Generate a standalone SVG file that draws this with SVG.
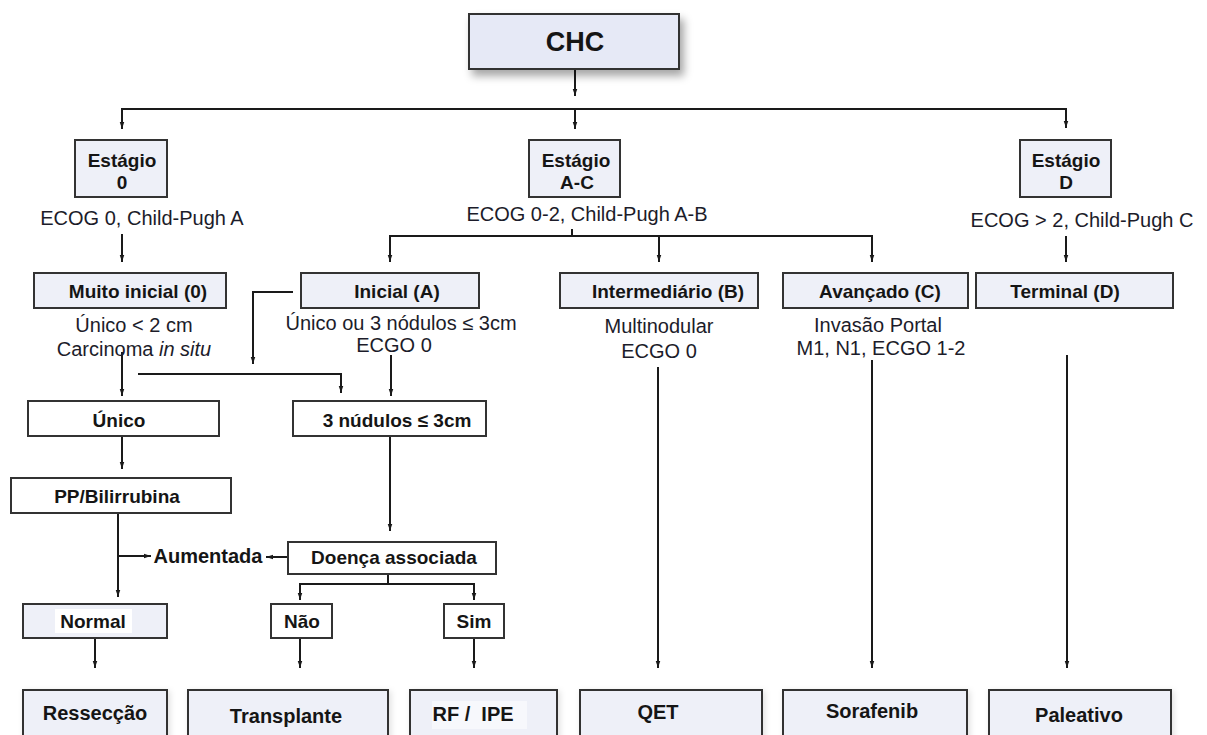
<svg xmlns="http://www.w3.org/2000/svg" width="1207" height="735" viewBox="0 0 1207 735">
<defs>
<marker id="ah" markerWidth="7" markerHeight="11" refX="11" refY="3.5" orient="auto" markerUnits="userSpaceOnUse" viewBox="0 0 11 7"><path d="M0,0 L11,3.5 L0,7 z" fill="#1a1a1a"/></marker>
<filter id="sh" x="-20%" y="-30%" width="150%" height="180%"><feDropShadow dx="4" dy="6" stdDeviation="4" flood-color="#000" flood-opacity="0.35"/></filter>
<filter id="sh2" x="-20%" y="-30%" width="150%" height="180%"><feDropShadow dx="2" dy="2" stdDeviation="3" flood-color="#000" flood-opacity="0.12"/></filter>
</defs>
<style>
.lav{fill:#eef0f8;stroke:#333;stroke-width:2}
.wht{fill:#fff;stroke:#333;stroke-width:2}
.bt{font-family:"Liberation Sans",Arial,sans-serif;font-weight:bold;font-size:19px;fill:#151515;text-anchor:middle}
.bb{font-family:"Liberation Sans",Arial,sans-serif;font-weight:bold;font-size:20px;fill:#151515;text-anchor:middle}
.rt{font-family:"Liberation Sans",Arial,sans-serif;font-size:20px;fill:#1c1c2a;text-anchor:middle}
.ln{stroke:#1a1a1a;stroke-width:2;fill:none}
.ar{stroke:#1a1a1a;stroke-width:2;fill:none;marker-end:url(#ah)}
</style>
<rect width="1207" height="735" fill="#fff"/>

<g id="connectors">
<line class="ar" x1="575" y1="69" x2="575" y2="96"/>
<line class="ln" x1="122" y1="109" x2="1066" y2="109"/>
<line class="ar" x1="122" y1="108" x2="122" y2="129"/>
<line class="ar" x1="575" y1="109" x2="575" y2="129"/>
<line class="ar" x1="1066" y1="108" x2="1066" y2="128"/>
<line class="ar" x1="122" y1="234" x2="122" y2="262"/>
<line class="ln" x1="572" y1="229" x2="572" y2="236"/>
<line class="ln" x1="390" y1="236" x2="872" y2="236"/>
<line class="ar" x1="390" y1="235" x2="390" y2="262"/>
<line class="ar" x1="659" y1="236" x2="659" y2="262"/>
<line class="ar" x1="872" y1="235" x2="872" y2="262"/>
<line class="ar" x1="1066" y1="236" x2="1066" y2="262"/>
<line class="ar" x1="122" y1="352" x2="122" y2="396"/>
<path class="ar" d="M138,374 H341 V393"/>
<path class="ar" d="M293,292 H253 V364"/>
<line class="ar" x1="391" y1="355" x2="391" y2="396"/>
<line class="ar" x1="122" y1="436" x2="122" y2="469"/>
<line class="ar" x1="390" y1="436" x2="390" y2="531"/>
<line class="ar" x1="118" y1="513" x2="118" y2="597"/>
<line class="ar" x1="118" y1="556" x2="151" y2="556"/>
<line class="ar" x1="288" y1="557" x2="266" y2="557"/>
<line class="ln" x1="388" y1="574" x2="388" y2="584"/>
<path class="ar" d="M388,584 H300 V600"/>
<path class="ar" d="M388,584 H474 V600"/>
<line class="ar" x1="95" y1="638" x2="95" y2="668"/>
<line class="ar" x1="300" y1="638" x2="300" y2="668"/>
<line class="ar" x1="474" y1="638" x2="474" y2="668"/>
<line class="ar" x1="658" y1="367" x2="658" y2="668"/>
<line class="ar" x1="872" y1="360" x2="872" y2="668"/>
<line class="ar" x1="1067" y1="355" x2="1067" y2="668"/>
</g>

<g id="chc"><rect x="469" y="14" width="210" height="55" fill="#e6e9f6" stroke="#333" stroke-width="2" filter="url(#sh)"/><text class="bt" x="575" y="51" style="font-size:27px">CHC</text></g>

<g id="estagio0"><rect class="lav" x="75" y="140" width="92" height="57"/><text class="bt" x="122" y="167">Estágio</text><text class="bt" x="122" y="189">0</text></g>
<g id="estagioAC"><rect class="lav" x="529" y="140" width="91" height="57"/><text class="bt" x="576" y="167">Estágio</text><text class="bt" x="577" y="189">A-C</text></g>
<g id="estagioD"><rect class="lav" x="1020" y="140" width="91" height="57"/><text class="bt" x="1066" y="167">Estágio</text><text class="bt" x="1066" y="189">D</text></g>

<g id="ecog0"><text class="rt" x="142" y="225">ECOG 0, Child-Pugh A</text></g>
<g id="ecogAC"><text class="rt" x="587" y="221">ECOG 0-2, Child-Pugh A-B</text></g>
<g id="ecogD"><text class="rt" x="1082" y="227">ECOG &gt; 2, Child-Pugh C</text></g>

<g id="muito"><rect class="lav" x="34" y="273" width="192" height="35"/><text class="bt" x="138" y="298">Muito inicial (0)</text></g>
<g id="inicial"><rect class="lav" x="301" y="273" width="178" height="35"/><text class="bt" x="397" y="298">Inicial (A)</text></g>
<g id="intermediario"><rect class="lav" x="560" y="273" width="198" height="35"/><text class="bt" x="668" y="298">Intermediário (B)</text></g>
<g id="avancado"><rect class="lav" x="783" y="273" width="185" height="35"/><text class="bt" x="880" y="298">Avançado (C)</text></g>
<g id="terminal"><rect class="lav" x="976" y="273" width="197" height="35"/><text class="bt" x="1065" y="298">Terminal (D)</text></g>

<g id="desc-muito"><text class="rt" x="134" y="332">Único &lt; 2 cm</text><text class="rt" x="134" y="356">Carcinoma <tspan font-style="italic">in situ</tspan></text></g>
<g id="desc-inicial"><text class="rt" x="401" y="330">Único ou 3 nódulos ≤ 3cm</text><text class="rt" x="394" y="352">ECGO 0</text></g>
<g id="desc-inter"><text class="rt" x="659" y="333">Multinodular</text><text class="rt" x="659" y="358">ECGO 0</text></g>
<g id="desc-avanc"><text class="rt" x="878" y="332">Invasão Portal</text><text class="rt" x="881" y="355">M1, N1, ECGO 1-2</text></g>

<g id="unico"><rect class="wht" x="28" y="401" width="191" height="35"/><text class="bt" x="119" y="427">Único</text></g>
<g id="tres"><rect class="wht" x="293" y="401" width="193" height="35"/><text class="bt" x="397" y="427">3 núdulos ≤ 3cm</text></g>
<g id="pp"><rect class="wht" x="11" y="478" width="220" height="35"/><text class="bt" x="117" y="503">PP/Bilirrubina</text></g>
<g id="aumentada"><text class="bb" x="208" y="563">Aumentada</text></g>
<g id="doenca"><rect class="wht" x="288" y="542" width="208" height="32"/><text class="bt" x="394" y="564">Doença associada</text></g>
<g id="normal"><rect class="lav" x="23" y="604" width="144" height="34"/><rect x="55" y="609" width="77" height="24" fill="#fff"/><text class="bt" x="93" y="628">Normal</text></g>
<g id="nao"><rect class="wht" x="271" y="604" width="61" height="34"/><text class="bt" x="302" y="628">Não</text></g>
<g id="sim"><rect class="wht" x="444" y="604" width="60" height="34"/><text class="bt" x="474" y="628">Sim</text></g>

<g id="resseccao"><rect class="lav" x="23" y="690" width="144" height="60" filter="url(#sh2)"/><text class="bb" x="95" y="720">Ressecção</text></g>
<g id="transplante"><rect class="lav" x="188" y="690" width="200" height="60" filter="url(#sh2)"/><text class="bb" x="286" y="723">Transplante</text></g>
<g id="rfipe"><rect class="lav" x="410" y="690" width="147" height="60" filter="url(#sh2)"/><rect x="432" y="701" width="95" height="28" fill="#f7f8fc"/><text class="bb" x="473" y="721" xml:space="preserve">RF /  IPE</text></g>
<g id="qet"><rect class="lav" x="580" y="690" width="182" height="60" filter="url(#sh2)"/><text class="bb" x="658" y="719">QET</text></g>
<g id="sorafenib"><rect class="lav" x="783" y="690" width="184" height="60" filter="url(#sh2)"/><text class="bb" x="872" y="718">Sorafenib</text></g>
<g id="paleativo"><rect class="lav" x="989" y="690" width="182" height="60" filter="url(#sh2)"/><text class="bb" x="1079" y="722">Paleativo</text></g>
</svg>
